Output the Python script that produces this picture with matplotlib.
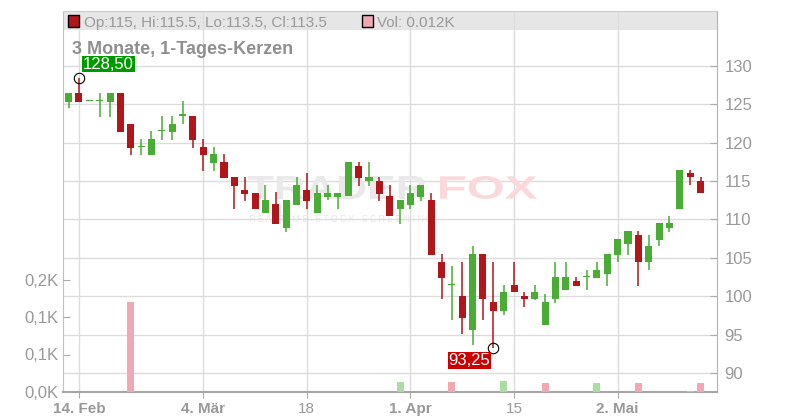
import numpy as np
import pandas as pd
import matplotlib
matplotlib.use('Agg')
import matplotlib.pyplot as plt
from matplotlib.patches import Rectangle, PathPatch
from matplotlib.textpath import TextPath
from matplotlib.font_manager import FontProperties
from matplotlib.transforms import Affine2D

plt.rcParams['font.family'] = ['Liberation Sans', 'DejaVu Sans']

# trading days (German exchange holidays skipped)
holidays = ['2019-04-19', '2019-04-22', '2019-05-01']
dates = pd.bdate_range('2019-02-13', '2019-05-14', freq='C', holidays=holidays)

opens = [125.25, 126.5, 125.4, 125.4, 125.3, 126.5, 122.45, 119.4, 118.45, 121.5,
         121.45, 123.5, 123.5, 119.45, 117.4, 117.5, 115.5, 113.9, 113.4, 110.9,
         112.0, 108.95, 111.9, 113.9, 110.9, 112.95, 112.95, 113.0, 117.0, 115.0,
         115.0, 113.05, 111.4, 111.95, 112.95, 112.5, 104.45, 101.45, 100.05, 95.6,
         105.5, 99.25, 98.1, 101.5, 100.05, 99.7, 96.2, 99.7, 100.85, 101.95,
         102.45, 102.4, 102.95, 105.4, 106.85, 108.0, 104.4, 107.35, 108.95, 111.4,
         116.0, 115.0]
highs = [126.5, 128.5, 125.4, 126.5, 126.5, 126.5, 122.45, 120.45, 121.5, 123.5,
         123.5, 125.45, 123.5, 120.45, 119.45, 118.5, 115.5, 115.5, 113.4, 114.5,
         113.6, 112.5, 115.6, 116.05, 114.5, 114.5, 113.4, 117.5, 117.5, 117.5,
         115.5, 114.5, 112.5, 114.5, 114.5, 113.5, 105.5, 103.9, 104.45, 106.55,
         105.5, 104.45, 101.5, 104.45, 100.55, 101.5, 100.3, 104.45, 104.45, 102.5,
         103.45, 104.45, 105.5, 107.45, 108.5, 108.5, 108.0, 109.5, 110.45, 116.5,
         116.5, 115.5]
lows = [124.5, 125.25, 125.4, 123.4, 123.4, 121.45, 118.45, 118.45, 118.45, 120.4,
        120.4, 122.4, 119.35, 116.35, 116.35, 115.45, 111.4, 112.4, 111.4, 110.9,
        109.45, 108.4, 111.9, 111.4, 110.9, 112.5, 111.4, 113.0, 114.4, 114.4,
        112.4, 110.4, 109.45, 111.4, 112.45, 105.4, 99.7, 96.9, 95.1, 93.65,
        96.9, 93.25, 97.55, 100.5, 98.65, 99.45, 96.2, 99.15, 100.85, 101.35,
        100.85, 102.4, 101.35, 104.4, 105.4, 101.35, 103.45, 106.5, 108.4, 111.4,
        114.45, 113.5]
closes = [126.5, 125.25, 125.4, 125.4, 126.5, 121.45, 119.35, 119.4, 120.5, 121.5,
          122.5, 123.5, 120.4, 118.45, 118.5, 115.45, 114.4, 113.35, 111.4, 112.5,
          109.45, 112.5, 114.5, 112.4, 113.4, 113.4, 113.4, 117.5, 115.45, 115.5,
          113.35, 110.4, 112.5, 113.45, 114.5, 105.4, 102.4, 101.45, 97.2, 105.5,
          99.7, 98.1, 100.55, 100.5, 99.7, 100.55, 99.25, 102.5, 102.5, 101.35,
          102.45, 103.45, 105.5, 107.45, 108.5, 104.4, 106.55, 109.5, 109.5, 116.5,
          115.5, 113.5]
# volume in thousands
volumes = [0, 0, 0, 0, 0, 0, 0.12, 0, 0, 0,
           0, 0, 0, 0, 0, 0, 0, 0, 0, 0,
           0, 0, 0, 0, 0, 0, 0, 0, 0, 0,
           0, 0, 0.013, 0, 0, 0, 0, 0.013, 0, 0,
           0, 0, 0.015, 0, 0, 0, 0.012, 0, 0, 0,
           0, 0.012, 0, 0, 0, 0.012, 0, 0, 0, 0,
           0.0013, 0.012]

tick_dates = ['2019-02-14', '2019-03-04', '2019-03-18', '2019-04-01', '2019-04-15', '2019-05-02']
tick_labels = ['14. Feb', '4. Mär', '18', '1. Apr', '15', '2. Mai']
tick_bold = [True, True, False, True, False, True]
price_ticks = [90, 95, 100, 105, 110, 115, 120, 125, 130]
vol_ticks = [0, 0.05, 0.1, 0.15]
vol_tick_labels = ['0,0K', '0,1K', '0,1K', '0,2K']

GREEN = '#49ad35'
RED = '#b1161a'
GRAY_TXT = '#999999'

o = np.array(opens)
h = np.array(highs)
l = np.array(lows)
c = np.array(closes)
x = np.arange(len(dates))

fig = plt.figure(figsize=(8, 4.2), dpi=100)
ax = fig.add_axes([63 / 800, 28 / 420, 654 / 800, 381 / 420])
ax.set_facecolor('none')
ax.set_xlim(-0.54, 62.59)
ax.set_ylim(87.52, 137.17)

# volume axis (twin first, then move price axis to the right)
ax_v = ax.twinx()
ax_v.set_ylim(0, 0.508)

# header band
ax.add_patch(Rectangle((0, 0.95), 1, 0.05, transform=ax.transAxes,
                       color='#e6e6e6', lw=0, zorder=0.3))

ax.set_axisbelow(True)
ax.grid(True, color='#dcdcdc', lw=1.0)


def fit_text(s, box, color, weight='bold'):
    fp = FontProperties(family='Liberation Sans', weight=weight)
    tp = TextPath((0, 0), s, size=10, prop=fp)
    ext = tp.get_extents()
    x0, y0, x1, y1 = box
    tr = (Affine2D().translate(-ext.x0, -ext.y0)
          .scale((x1 - x0) / ext.width, (y1 - y0) / ext.height)
          .translate(x0, 420 - y1))
    ax.add_patch(PathPatch(tp, transform=tr, fc=color, ec='none', lw=0, zorder=0.6))


# watermark
fit_text('TRADER', (248, 176, 426, 199), '#e9e9e9')
fit_text('FOX', (440, 176, 537, 199), '#fad8dc')
fit_text('R E A L T I M E   S T O C K   S C R E E N I N G', (250, 215, 432, 222), '#e6e6e6', 'normal')

up = c >= o
colors = np.where(up, GREEN, RED)
ax.vlines(x, l, h, colors=colors, lw=1.1, zorder=2)
body_lo = np.minimum(o, c)
body_h = np.maximum(np.abs(c - o), 0.2)
ax.bar(x, body_h, bottom=body_lo, width=0.68, color=colors, lw=0, zorder=3)

# extreme markers
i_hi = int(np.argmax(h))
i_lo = int(np.argmin(l))
ax.plot([i_hi, i_lo], [h[i_hi], l[i_lo]], 'o', mfc='none', mec='black',
        ms=7.5, mew=0.8, zorder=4)
ax.annotate(f'{h[i_hi]:.2f}'.replace('.', ','), xy=(i_hi, h[i_hi]), xytext=(4, 6),
            textcoords='offset pixels', ha='left', va='bottom', color='white', fontsize=12,
            bbox=dict(boxstyle='square,pad=0.05', fc='#009a00', ec='none'), zorder=5)
ax.annotate(f'{l[i_lo]:.2f}'.replace('.', ','), xy=(i_lo, l[i_lo]), xytext=(-3, -5),
            textcoords='offset pixels', ha='right', va='top', color='white', fontsize=12,
            bbox=dict(boxstyle='square,pad=0.05', fc='#cc0000', ec='none'), zorder=5)

ax.set_yticks(price_ticks)
ax.yaxis.tick_right()
ax.yaxis.set_label_position('right')
ax.tick_params(axis='y', which='both', left=False, labelleft=False, right=True, labelright=True,
               direction='in', length=5, color='#aaaaaa',
               labelcolor=GRAY_TXT, labelsize=12, pad=5.5)
tick_idx = [dates.get_loc(pd.Timestamp(d)) for d in tick_dates]
ax.set_xticks(tick_idx, tick_labels)
ax.tick_params(axis='x', direction='out', length=4, color='#aaaaaa',
               labelcolor=GRAY_TXT, labelsize=11, pad=3)
for lab, b in zip(ax.get_xticklabels(), tick_bold):
    lab.set_fontweight('bold' if b else 'normal')

for side, col in [('left', '#c0c0c0'), ('right', '#b4b4b4'), ('top', '#cccccc'), ('bottom', '#a6a6a6')]:
    ax.spines[side].set_color(col)
ax.spines['bottom'].set_linewidth(1.5)

prev = np.r_[c[0], c[:-1]]
vol_colors = np.where(c >= prev, '#aadda2', '#f0a9b2')
ax_v.bar(x, volumes, width=0.68, color=vol_colors, lw=0, zorder=2)
ax_v.set_yticks(vol_ticks, vol_tick_labels)
ax_v.yaxis.tick_left()
ax_v.tick_params(axis='y', which='both', left=True, labelleft=True, right=False, labelright=False,
                 direction='in', length=5, color='#aaaaaa',
                 labelcolor=GRAY_TXT, labelsize=12, pad=3)
for s in ax_v.spines.values():
    s.set_visible(False)

# header legend
fig.add_artist(Rectangle((68 / 800, (420 - 26.5) / 420), 11 / 800, 11 / 420,
                         transform=fig.transFigure, fc=RED, ec='black', lw=1))
fig.text(84 / 800, (420 - 26.7) / 420, 'Op:115, Hi:115.5, Lo:113.5, Cl:113.5',
         fontsize=11, color=GRAY_TXT, va='baseline')
fig.add_artist(Rectangle((362 / 800, (420 - 26.5) / 420), 10.5 / 800, 11 / 420,
                         transform=fig.transFigure, fc='#f0a9b2', ec='black', lw=1))
fig.text(377 / 800, (420 - 26.7) / 420, 'Vol: 0.012K',
         fontsize=11, color=GRAY_TXT, va='baseline')
fig.text(72 / 800, (420 - 54) / 420, '3 Monate, 1-Tages-Kerzen',
         fontsize=13, fontweight='bold', color='#8f8f8f', va='baseline')

fig.savefig('out.png', dpi=100, facecolor='white')
